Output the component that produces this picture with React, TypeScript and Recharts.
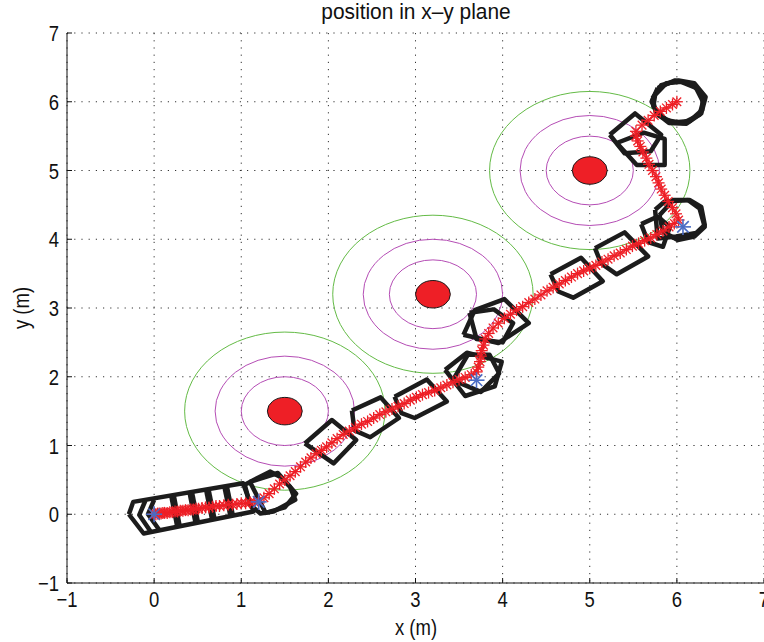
import React from 'react';
import { ComposedChart, Line, Scatter, XAxis, YAxis, CartesianGrid, ReferenceArea } from 'recharts';

type Pt = { x: number; y: number };
const pts = (list: number[][]): Pt[] => list.map(([x, y]) => ({ x, y }));

const axisTicks = [-1, 0, 1, 2, 3, 4, 5, 6, 7];

// obstacles: centre, body radius and the rings drawn round them
const obstacleX = [1.5, 3.2, 5];
const obstacleY = [1.5, 3.2, 5];
const bodyRadius = 0.2;
const innerRings = [0.5, 0.8];
const outerRing = 1.15;

const waypoints = pts([[0, 0], [1.2, 0.18], [3.7, 1.95], [6.07, 4.18]]);

const trajectory = pts([
  [0, 0], [0.02, 0], [0.04, 0.01], [0.06, 0.01], [0.08, 0.01], [0.1, 0.02], [0.12, 0.02], [0.15, 0.02],
  [0.18, 0.03], [0.21, 0.03], [0.24, 0.04], [0.27, 0.04], [0.3, 0.05], [0.33, 0.05], [0.36, 0.06],
  [0.39, 0.06], [0.42, 0.07], [0.45, 0.07], [0.48, 0.08], [0.51, 0.08], [0.55, 0.09], [0.59, 0.1],
  [0.63, 0.1], [0.67, 0.11], [0.71, 0.12], [0.75, 0.12], [0.8, 0.13], [0.85, 0.14], [0.9, 0.14],
  [0.95, 0.15], [1.0, 0.16], [1.05, 0.16], [1.1, 0.17], [1.15, 0.18], [1.2, 0.19],
  [1.26, 0.24], [1.32, 0.3], [1.38, 0.37], [1.44, 0.44], [1.5, 0.5], [1.56, 0.56], [1.62, 0.62],
  [1.68, 0.69], [1.74, 0.76], [1.8, 0.82], [1.86, 0.88], [1.92, 0.93], [1.98, 0.98], [2.04, 1.04],
  [2.1, 1.1], [2.17, 1.16], [2.24, 1.21], [2.31, 1.26], [2.38, 1.31], [2.45, 1.35], [2.52, 1.4],
  [2.59, 1.45], [2.66, 1.49], [2.73, 1.53], [2.8, 1.57], [2.87, 1.61], [2.94, 1.66], [3.01, 1.7],
  [3.08, 1.74], [3.15, 1.77], [3.22, 1.8], [3.29, 1.84], [3.36, 1.88], [3.43, 1.92], [3.5, 1.96],
  [3.57, 1.99], [3.64, 2.03], [3.7, 2.07],
  [3.72, 2.14], [3.74, 2.22], [3.75, 2.3], [3.76, 2.38], [3.78, 2.46], [3.8, 2.55], [3.84, 2.63],
  [3.89, 2.71], [3.95, 2.78], [4.02, 2.85], [4.09, 2.91], [4.16, 2.97],
  [4.23, 3.02], [4.3, 3.08], [4.37, 3.13], [4.44, 3.19], [4.51, 3.25], [4.58, 3.3], [4.65, 3.35],
  [4.72, 3.4], [4.79, 3.45], [4.86, 3.5], [4.93, 3.54], [5.0, 3.58], [5.07, 3.62], [5.14, 3.67],
  [5.21, 3.71], [5.28, 3.76], [5.35, 3.8], [5.42, 3.85], [5.49, 3.9], [5.56, 3.94], [5.63, 3.98],
  [5.7, 4.02], [5.77, 4.07], [5.84, 4.12], [5.91, 4.18], [5.97, 4.23], [6.02, 4.28],
  [5.99, 4.37], [5.95, 4.46], [5.9, 4.55], [5.86, 4.64], [5.82, 4.73], [5.79, 4.82], [5.76, 4.91],
  [5.72, 5.0], [5.68, 5.09], [5.65, 5.18], [5.61, 5.27], [5.58, 5.35], [5.55, 5.43], [5.53, 5.5],
  [5.53, 5.57],
  [5.6, 5.66], [5.67, 5.73], [5.74, 5.8], [5.81, 5.86], [5.88, 5.91], [5.95, 5.96], [6.0, 6.0],
]);

// formation outlines along the way
const startOutline = pts([[-0.29, 0], [-0.24, 0.18], [1.02, 0.45], [1.14, 0.04], [-0.12, -0.28], [-0.29, 0]]);
const startChevronA = pts([[-0.1, 0.2], [-0.17, -0.01], [-0.04, -0.25]]);
const startChevronB = pts([[0.0, 0.21], [-0.07, 0], [0.06, -0.23]]);
const startBarA = pts([[0.21, 0.276], [0.28, -0.178]]);
const startBarB = pts([[0.42, 0.321], [0.49, -0.125]]);
const startBarC = pts([[0.61, 0.362], [0.68, -0.077]]);
const startBarD = pts([[0.82, 0.407], [0.89, -0.023]]);
const hexK = pts([[1.04, 0.43], [1.33, 0.62], [1.44, 0.55], [1.56, 0.4], [1.62, 0.21], [1.37, 0.04], [1.22, 0.01], [1.1, 0.14], [1.04, 0.43]]);
const hexK2 = pts([[1.1, 0.47], [1.42, 0.6], [1.63, 0.3], [1.5, 0.1], [1.28, 0.02], [1.1, 0.47]]);
const diamondJ = pts([[1.73, 1.03], [2.04, 1.37], [2.32, 1.08], [2.06, 0.74], [1.73, 1.03]]);
const rectI = pts([[2.27, 1.51], [2.6, 1.7], [2.81, 1.4], [2.48, 1.12], [2.3, 1.22], [2.27, 1.51]]);
const rectH = pts([[2.76, 1.71], [3.13, 1.96], [3.36, 1.64], [2.99, 1.4], [2.84, 1.47], [2.76, 1.71]]);
const pentF1 = pts([[3.34, 2.1], [3.59, 2.35], [3.99, 2.22], [3.91, 1.86], [3.57, 1.72], [3.34, 2.1]]);
const pentF2 = pts([[3.43, 1.95], [3.6, 2.32], [3.85, 2.32], [3.96, 2.05], [3.75, 1.78], [3.43, 1.95]]);
const pentG1 = pts([[3.55, 2.61], [3.68, 2.97], [4.02, 3.13], [4.3, 2.78], [3.95, 2.49], [3.55, 2.61]]);
const pentG2 = pts([[3.62, 2.93], [3.9, 2.98], [4.12, 2.78], [4.0, 2.5], [3.7, 2.55], [3.62, 2.93]]);
const rectA = pts([[4.55, 3.49], [4.9, 3.73], [5.15, 3.39], [4.81, 3.15], [4.64, 3.24], [4.55, 3.49]]);
const rectB = pts([[5.06, 3.87], [5.4, 4.1], [5.67, 3.75], [5.31, 3.49], [5.13, 3.65], [5.06, 3.87]]);
const pentC1 = pts([[5.59, 4.22], [5.78, 4.33], [5.92, 4.18], [5.84, 3.89], [5.67, 3.96], [5.59, 4.22]]);
const heptC2 = pts([[5.8, 4.35], [5.96, 4.57], [6.13, 4.57], [6.26, 4.45], [6.32, 4.18], [6.2, 4.04], [6.01, 3.99], [5.84, 4.11], [5.8, 4.35]]);
const heptC3 = pts([[5.75, 4.43], [5.86, 4.55], [6.15, 4.57], [6.28, 4.47], [6.32, 4.21], [6.22, 4.09], [5.99, 4.04], [5.78, 4.01], [5.75, 4.43]]);
const pentE1 = pts([[5.23, 5.52], [5.52, 5.83], [5.82, 5.52], [5.7, 5.28], [5.4, 5.25], [5.23, 5.52]]);
const pentE2 = pts([[5.31, 5.4], [5.62, 5.55], [5.86, 5.46], [5.86, 5.08], [5.54, 5.08], [5.31, 5.4]]);
const octD1 = pts([[5.75, 6.1], [5.88, 6.27], [6.05, 6.29], [6.22, 6.2], [6.3, 6.0], [6.26, 5.81], [6.07, 5.69], [5.88, 5.73], [5.73, 5.93], [5.75, 6.1]]);
const octD2 = pts([[5.78, 6.2], [5.98, 6.31], [6.17, 6.26], [6.3, 6.1], [6.29, 5.88], [6.15, 5.72], [5.95, 5.7], [5.79, 5.8], [5.71, 6.0], [5.78, 6.2]]);
const octD3 = pts([[5.72, 6.05], [5.82, 6.24], [6.02, 6.31], [6.2, 6.27], [6.33, 6.07], [6.28, 5.83], [6.11, 5.68], [5.91, 5.69], [5.76, 5.84], [5.72, 6.05]]);

const outlines = [
  startOutline, startChevronA, startChevronB, hexK, hexK2, diamondJ, rectI, rectH, pentF1, pentF2,
  pentG1, pentG2, rectA, rectB, pentC1, heptC2, heptC3, pentE1, pentE2, octD1, octD2, octD3,
];
const bars = [startBarA, startBarB, startBarC, startBarD];

const FONT = "'Liberation Sans', Arial, sans-serif";
const RED = '#ee1f26';
const BLUE = '#4a6cc4';
const INK = '#1c1c1c';

const minus = (v: number) => String(v).replace('-', '\u2212');

const ellipse = (stroke: string, fill: string) => (props: any) => {
  const { x, y, width, height } = props;
  return (
    <ellipse cx={x + width / 2} cy={y + height / 2} rx={Math.abs(width) / 2} ry={Math.abs(height) / 2}
      fill={fill} stroke={stroke} strokeWidth={1} />
  );
};

const asterisk = (r: number, color: string, sw: number) => (props: any) => {
  const { cx, cy } = props;
  const d = r * 0.72;
  return (
    <g stroke={color} strokeWidth={sw}>
      <line x1={cx - r} y1={cy} x2={cx + r} y2={cy} />
      <line x1={cx} y1={cy - r} x2={cx} y2={cy + r} />
      <line x1={cx - d} y1={cy - d} x2={cx + d} y2={cy + d} />
      <line x1={cx - d} y1={cy + d} x2={cx + d} y2={cy - d} />
    </g>
  );
};

// narrow, tall tick digits
const XTick = (props: any) => {
  const { x, y, payload } = props;
  return (
    <text transform={`translate(${x},${y + 16}) scale(0.84,1)`} textAnchor="middle"
      fontFamily={FONT} fontSize={22} fill="#111">{minus(payload.value)}</text>
  );
};
const YTick = (props: any) => {
  const { x, y, payload } = props;
  return (
    <text transform={`translate(${x},${y + 8}) scale(0.84,1)`} textAnchor="end"
      fontFamily={FONT} fontSize={22} fill="#111">{minus(payload.value)}</text>
  );
};

const textStyle: React.CSSProperties = {
  position: 'absolute', fontFamily: FONT, fontSize: 22, color: '#111', whiteSpace: 'nowrap',
  transform: 'translate(-50%, -50%) scale(0.84, 1)',
};

export default function App() {
  const rings: React.ReactNode[] = [];
  obstacleX.forEach((cx, i) => {
    const cy = obstacleY[i];
    rings.push(
      <ReferenceArea key={`g${i}`} x1={cx - outerRing} x2={cx + outerRing} y1={cy - outerRing} y2={cy + outerRing}
        shape={ellipse('#64bb46', 'none')} />
    );
    innerRings.forEach((r, j) => {
      rings.push(
        <ReferenceArea key={`m${i}-${j}`} x1={cx - r} x2={cx + r} y1={cy - r} y2={cy + r}
          shape={ellipse('#b54db5', 'none')} />
      );
    });
    rings.push(
      <ReferenceArea key={`b${i}`} x1={cx - bodyRadius} x2={cx + bodyRadius} y1={cy - bodyRadius} y2={cy + bodyRadius}
        shape={ellipse('#1a1a1a', RED)} />
    );
  });

  return (
    <div style={{ position: 'absolute', left: 0, top: 0, width: 764, height: 642, overflow: 'hidden', background: '#fff' }}>
      <ComposedChart width={780} height={642} margin={{ top: 33, right: 16, bottom: 0, left: 7 }}>
        <CartesianGrid stroke="#333" strokeDasharray="1.2 6" />
        <XAxis dataKey="x" type="number" domain={[-1, 7]} ticks={axisTicks} allowDataOverflow
          height={59} tickSize={-5} tickMargin={13} stroke="#111" tick={<XTick />} />
        <YAxis dataKey="y" type="number" domain={[-1, 7]} ticks={axisTicks} allowDataOverflow
          width={60} tickSize={-5} tickMargin={13} stroke="#111" tick={<YTick />} />
        {rings}
        {outlines.map((o, i) => (
          <Line key={`o${i}`} data={o} dataKey="y" stroke={INK} strokeWidth={4.5} strokeLinejoin="round"
            dot={false} activeDot={false} isAnimationActive={false} />
        ))}
        {bars.map((b, i) => (
          <Line key={`s${i}`} data={b} dataKey="y" stroke={INK} strokeWidth={7}
            dot={false} activeDot={false} isAnimationActive={false} />
        ))}
        <Line data={trajectory} dataKey="y" stroke={RED} strokeWidth={1.2} dot={false} activeDot={false} isAnimationActive={false} />
        <Scatter data={trajectory} dataKey="y" shape={asterisk(6, RED, 1.3)} isAnimationActive={false} />
        <Scatter data={waypoints} dataKey="y" shape={asterisk(8, BLUE, 1.6)} isAnimationActive={false} />
      </ComposedChart>
      <div style={{ ...textStyle, left: 416, top: 12, fontSize: 22, transform: 'translate(-50%, -50%) scale(0.95, 1)' }}>position in x–y plane</div>
      <div style={{ ...textStyle, left: 416, top: 628 }}>x (m)</div>
      <div style={{ ...textStyle, left: 22, top: 308, transform: 'translate(-50%, -50%) rotate(-90deg) scale(0.84, 1)' }}>y (m)</div>
    </div>
  );
}
